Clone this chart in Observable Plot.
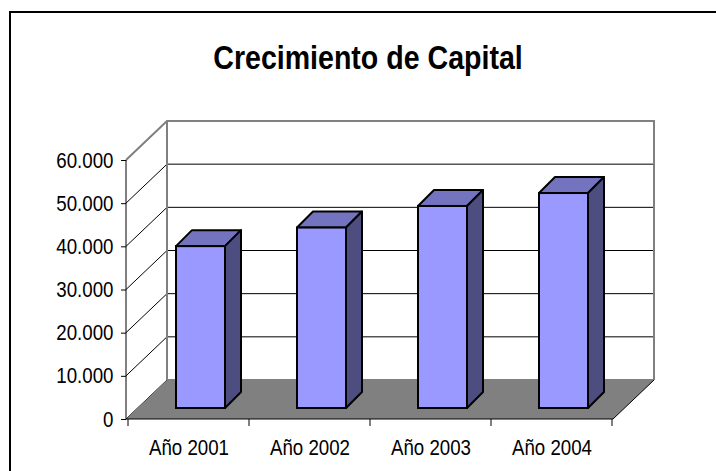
<!DOCTYPE html>
<html>
<head>
<meta charset="utf-8">
<script src="https://cdn.jsdelivr.net/npm/d3@7"></script>
<script src="https://cdn.jsdelivr.net/npm/@observablehq/plot@0.6"></script>
<style>
  body { margin: 0; background: #fff; }
  #wrap { position: relative; width: 716px; height: 471px; overflow: hidden; background: #fff; }
  #border { position: absolute; left: 9px; top: 11px; width: 800px; height: 600px;
            border-left: 2px solid #000; border-top: 2px solid #000; }
  #title { position: absolute; left: 0; width: 736px; top: 40px; text-align: center;
           font: bold 34px 'Liberation Sans', Arial, sans-serif; line-height: 34px; color: #000;
           transform: scaleX(0.84); transform-origin: 368px 0; }
  #chart { position: absolute; left: 0; top: 0; }
</style>
</head>
<body>
<div id="wrap">
  <div id="border"></div>
  <div id="chart"></div>
  <div id="title">Crecimiento de Capital</div>
</div>
<script>
// ---- data ----
const categories = ["Año 2001", "Año 2002", "Año 2003", "Año 2004"];
const values = [37500, 41800, 46800, 49800];
const yTicks = [0, 10000, 20000, 30000, 40000, 50000, 60000];

const data = categories.map((c, i) => ({year: c, value: values[i]}));

// ---- 3D layout constants (pixels) ----
const FLOOR = [41, -39];      // depth of the plot box
const BAR_FRONT = [12, -11];  // front plane of the bars
const BAR_DEPTH = [16, -16];  // thickness of each bar
const BAR_INSET = 36;         // bar inset within its band
const TEXT_SCALE = 0.85;      // narrow type, as in the original

const esFormat = d3.formatLocale({decimal: ",", thousands: ".", grouping: [3], currency: ["", " €"]}).format(",.0f");
const FONT = "'Liberation Sans', Arial, sans-serif";

function walls(index, scales, vals, dim) {
  const {x, y} = scales;
  const x0 = dim.marginLeft, x1 = dim.width - dim.marginRight;
  const yb = y(0), yt = y(d3.max(yTicks));
  const [dx, dy] = FLOOR;
  const g = d3.create("svg:g");
  g.append("rect").attr("x", x0 + dx).attr("y", yt + dy).attr("width", x1 - x0).attr("height", yb - yt)
    .attr("fill", "#fff");
  g.append("path").attr("d", `M${x0},${yb}L${x0},${yt}L${x0 + dx},${yt + dy}L${x0 + dx},${yb + dy}Z`).attr("fill", "#fff");
  for (const t of yTicks) {
    g.append("line").attr("x1", x0 + dx).attr("x2", x1 + dx).attr("y1", y(t) + dy).attr("y2", y(t) + dy)
      .attr("stroke", "#000").attr("stroke-width", 1);
    g.append("line").attr("x1", x0).attr("x2", x0 + dx).attr("y1", y(t)).attr("y2", y(t) + dy)
      .attr("stroke", "#000").attr("stroke-width", 1);
  }
  g.append("path").attr("d", `M${x0},${yb}L${x1},${yb}L${x1 + dx},${yb + dy}L${x0 + dx},${yb + dy}Z`)
    .attr("fill", "#808080");
  g.append("line").attr("x1", x1).attr("y1", yb).attr("x2", x1 + dx).attr("y2", yb + dy)
    .attr("stroke", "#000").attr("stroke-width", 1);
  g.append("path").attr("d", `M${x0},${yt}L${x0 + dx},${yt + dy}L${x1 + dx},${yt + dy}L${x1 + dx},${yb + dy}`)
    .attr("fill", "none").attr("stroke", "#808080").attr("stroke-width", 2);
  g.append("line").attr("x1", x0 + dx).attr("x2", x0 + dx).attr("y1", yt + dy).attr("y2", yb + dy)
    .attr("stroke", "#808080").attr("stroke-width", 2);
  g.append("line").attr("x1", x0).attr("x2", x0).attr("y1", yt).attr("y2", yb).attr("stroke", "#000");
  g.append("line").attr("x1", x0).attr("x2", x1).attr("y1", yb).attr("y2", yb).attr("stroke", "#000");
  const bounds = categories.map(c => x(c)).concat([x(categories[categories.length - 1]) + x.bandwidth()]);
  for (const b of bounds) {
    g.append("line").attr("x1", b).attr("x2", b).attr("y1", yb).attr("y2", yb + 7).attr("stroke", "#000");
  }
  return g.node();
}

function barSides(index, scales, vals, dim) {
  const {x, y} = scales;
  const bw = x.bandwidth();
  const [fx, fy] = BAR_FRONT, [ddx, ddy] = BAR_DEPTH;
  const g = d3.create("svg:g").attr("stroke", "#000").attr("stroke-width", 2).attr("stroke-linejoin", "round");
  for (const d of data) {
    const l = x(d.year) + BAR_INSET + fx, r = x(d.year) + bw - BAR_INSET + fx;
    const t = y(d.value) + fy, b = y(0) + fy;
    g.append("path").attr("fill", "#7373BF")
      .attr("d", `M${l},${t}L${l + ddx},${t + ddy}L${r + ddx},${t + ddy}L${r},${t}Z`);
    g.append("path").attr("fill", "#4D4D80")
      .attr("d", `M${r},${t}L${r + ddx},${t + ddy}L${r + ddx},${b + ddy}L${r},${b}Z`);
  }
  return g.node();
}

const chart = Plot.plot({
  width: 716,
  height: 471,
  marginLeft: 126,
  marginRight: 103,
  marginTop: 160,
  marginBottom: 52,
  style: {fontFamily: FONT, fontSize: "22px", color: "#000", background: "transparent"},
  x: {domain: categories, padding: 0, tickSize: 0, tickPadding: 20, label: null},
  y: {domain: [0, 60000], ticks: yTicks, tickFormat: esFormat, tickSize: 5, tickPadding: 8, label: null},
  marks: [
    walls,
    barSides,
    Plot.barY(data, {x: "year", y: "value", fill: "#9999FF", stroke: "#000", strokeWidth: 2,
      insetLeft: BAR_INSET, insetRight: BAR_INSET, dx: BAR_FRONT[0], dy: BAR_FRONT[1]})
  ]
});
// narrow the tick labels horizontally around their anchors
chart.querySelectorAll("text").forEach(el => {
  el.setAttribute("transform", ((el.getAttribute("transform") || "") + ` scale(${TEXT_SCALE},1)`).trim());
});
document.getElementById("chart").appendChild(chart);
</script>
</body>
</html>
